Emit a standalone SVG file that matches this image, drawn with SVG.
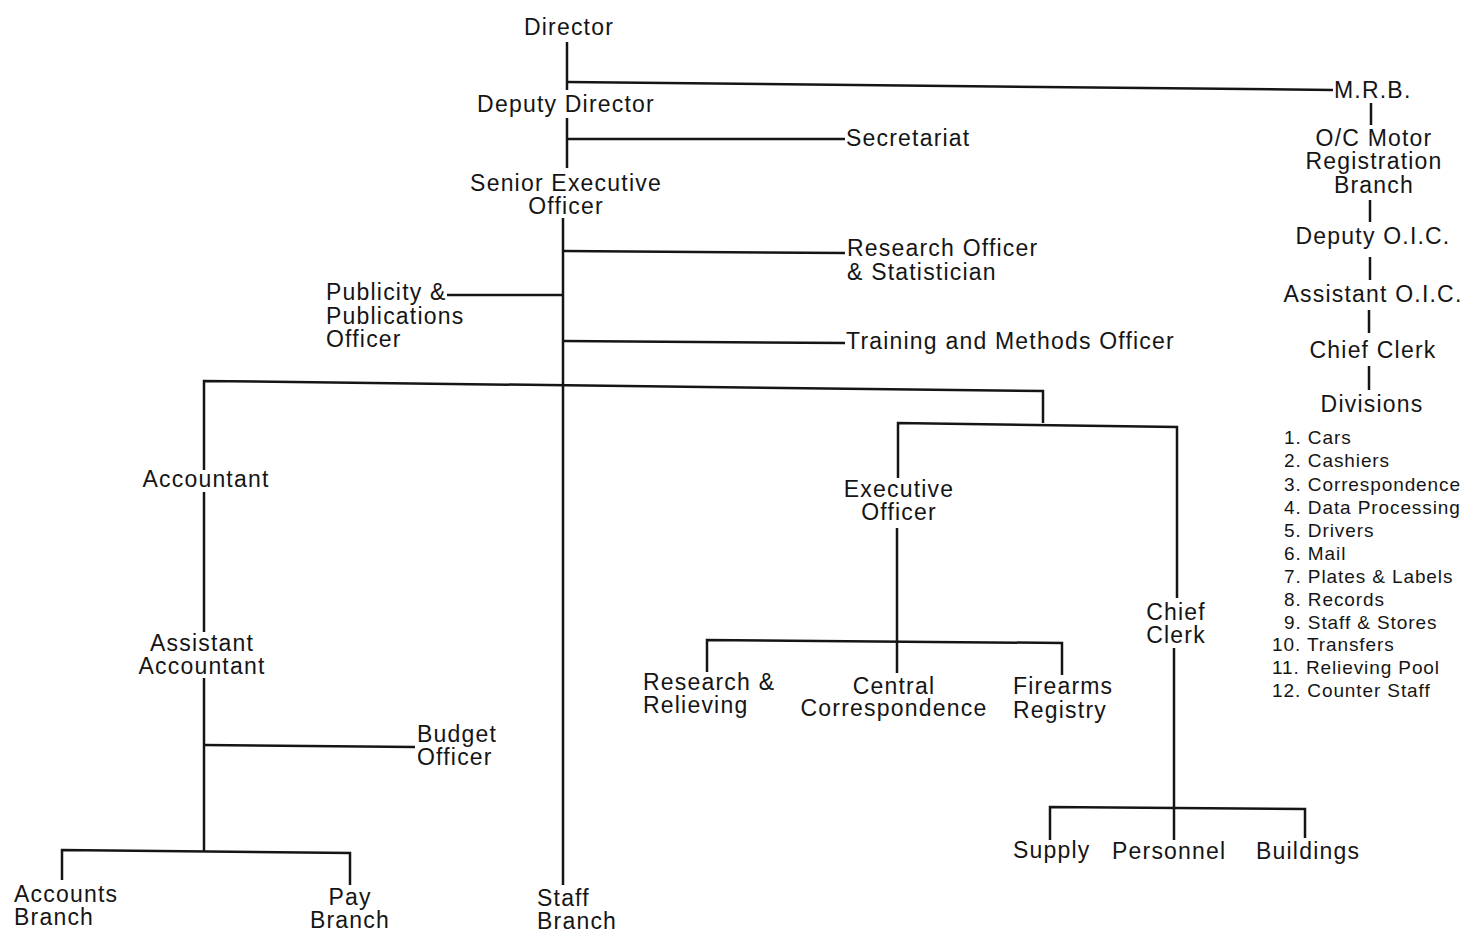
<svg xmlns="http://www.w3.org/2000/svg" width="1472" height="936" viewBox="0 0 1472 936">
<style>
text{font-family:"Liberation Sans",Arial,sans-serif;font-size:23px;letter-spacing:1.2px;fill:#151515}
.m{text-anchor:middle}
.l{font-size:19px;letter-spacing:0.9px}
.c path{fill:none;stroke:#151515;stroke-width:2.5}
</style>
<rect width="1472" height="936" fill="#ffffff"/>
<g class="c" id="connectors">
<path d="M567,42 V90"/>
<path d="M567,82 L1333,90"/>
<path d="M567,118 V168"/>
<path d="M567,139 H845"/>
<path d="M563,218 V885"/>
<path d="M563,251 L845,253"/>
<path d="M447,295 H563"/>
<path d="M563,341 L845,343"/>
<path d="M204,470 V381 L1043,391 V423"/>
<path d="M898,478 V423 L1177,427 V598"/>
<path d="M204,492 V632"/>
<path d="M204,678 V851"/>
<path d="M204,745 L415,747"/>
<path d="M62,880 V850 L350,853 V885"/>
<path d="M897,528 V673"/>
<path d="M707,672 V640 L1062,643 V675"/>
<path d="M1174,648 V840"/>
<path d="M1050,840 V807 L1305,809 V838"/>
<path d="M1371,103 V125"/>
<path d="M1370,200 V222"/>
<path d="M1370,257 V280"/>
<path d="M1369,310 V333"/>
<path d="M1369,366 V390"/>
</g>
<g id="director"><text class="m" x="569" y="35">Director</text></g>
<g id="deputy-director"><text class="m" x="566" y="112">Deputy Director</text></g>
<g id="secretariat"><text x="846" y="146">Secretariat</text></g>
<g id="senior-executive-officer"><text class="m" x="566" y="191">Senior Executive</text><text class="m" x="566" y="214">Officer</text></g>
<g id="research-officer"><text x="847" y="256">Research Officer</text><text x="847" y="280">&amp; Statistician</text></g>
<g id="publicity-officer"><text x="326" y="300">Publicity &amp;</text><text x="326" y="324">Publications</text><text x="326" y="347">Officer</text></g>
<g id="training-officer"><text x="846" y="349">Training and Methods Officer</text></g>
<g id="accountant"><text class="m" x="206" y="487">Accountant</text></g>
<g id="assistant-accountant"><text class="m" x="202" y="651">Assistant</text><text class="m" x="202" y="674">Accountant</text></g>
<g id="budget-officer"><text x="417" y="742">Budget</text><text x="417" y="765">Officer</text></g>
<g id="accounts-branch"><text x="14" y="902">Accounts</text><text x="14" y="925">Branch</text></g>
<g id="pay-branch"><text class="m" x="350" y="905">Pay</text><text class="m" x="350" y="928">Branch</text></g>
<g id="staff-branch"><text x="537" y="906">Staff</text><text x="537" y="929">Branch</text></g>
<g id="executive-officer"><text class="m" x="899" y="497">Executive</text><text class="m" x="899" y="520">Officer</text></g>
<g id="research-relieving"><text x="643" y="690">Research &amp;</text><text x="643" y="713">Relieving</text></g>
<g id="central-correspondence"><text class="m" x="894" y="694">Central</text><text class="m" x="894" y="716">Correspondence</text></g>
<g id="firearms-registry"><text x="1013" y="694">Firearms</text><text x="1013" y="718">Registry</text></g>
<g id="chief-clerk-left"><text class="m" x="1176" y="620">Chief</text><text class="m" x="1176" y="643">Clerk</text></g>
<g id="supply"><text x="1013" y="858">Supply</text></g>
<g id="personnel"><text x="1112" y="859">Personnel</text></g>
<g id="buildings"><text x="1256" y="859">Buildings</text></g>
<g id="mrb"><text x="1334" y="98">M.R.B.</text></g>
<g id="oc-motor"><text class="m" x="1374" y="146">O/C Motor</text><text class="m" x="1374" y="169">Registration</text><text class="m" x="1374" y="193">Branch</text></g>
<g id="deputy-oic"><text class="m" x="1373" y="244">Deputy O.I.C.</text></g>
<g id="assistant-oic"><text class="m" x="1373" y="302">Assistant O.I.C.</text></g>
<g id="chief-clerk-right"><text class="m" x="1373" y="358">Chief Clerk</text></g>
<g id="divisions"><text class="m" x="1372" y="412">Divisions</text>
<text class="l" x="1284" y="444">1. Cars</text>
<text class="l" x="1284" y="467">2. Cashiers</text>
<text class="l" x="1284" y="491">3. Correspondence</text>
<text class="l" x="1284" y="514">4. Data Processing</text>
<text class="l" x="1284" y="537">5. Drivers</text>
<text class="l" x="1284" y="560">6. Mail</text>
<text class="l" x="1284" y="583">7. Plates &amp; Labels</text>
<text class="l" x="1284" y="606">8. Records</text>
<text class="l" x="1284" y="629">9. Staff &amp; Stores</text>
<text class="l" x="1272" y="651">10. Transfers</text>
<text class="l" x="1272" y="674">11. Relieving Pool</text>
<text class="l" x="1272" y="697">12. Counter Staff</text>
</g>
</svg>
